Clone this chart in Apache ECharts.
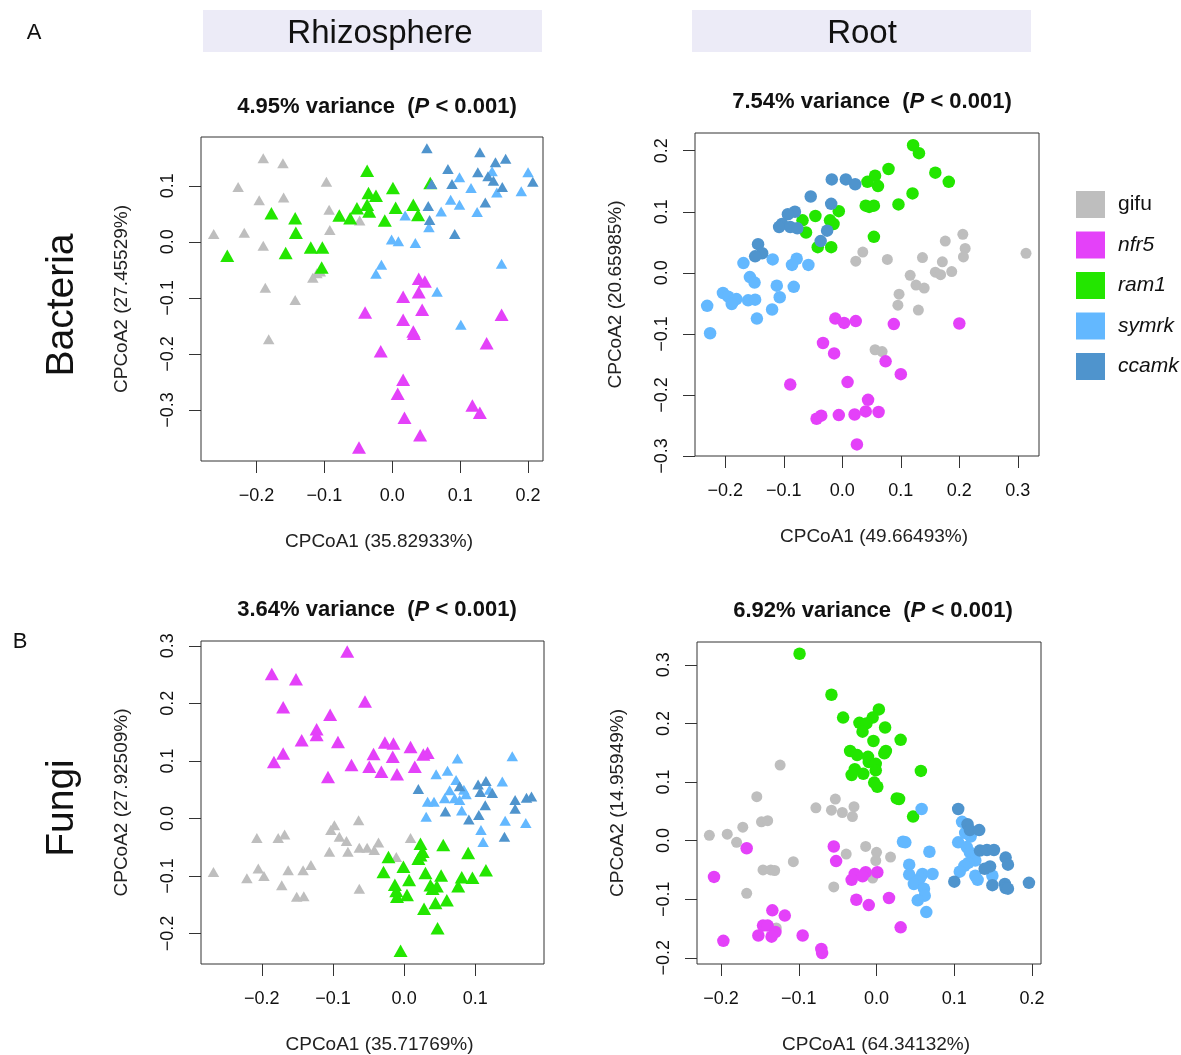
<!DOCTYPE html>
<html>
<head>
<meta charset="utf-8">
<script src="https://cdn.jsdelivr.net/npm/echarts@6/dist/echarts.min.js"></script>
<style>
  html, body { margin: 0; padding: 0; background: #fff; }
  #chart { width: 1181px; height: 1055px; }
</style>
</head>
<body>
<div id="chart"></div>
<script>
const genotypes = ['gifu', 'nfr5', 'ram1', 'symrk', 'ccamk']
const colors = ['#bebebe', '#e441f9', '#23e600', '#63b8ff', '#4f94cd']

// Bacteria, rhizosphere
const bactRhizoGifu = [[-0.190,0.149],[-0.161,0.140],[-0.227,0.098],[-0.196,0.074],[-0.160,0.079],[-0.097,0.107],[-0.093,0.057],[-0.092,0.021],[-0.048,0.038],[-0.263,0.014],[-0.218,0.016],[-0.190,-0.007],[-0.106,-0.053],[-0.111,-0.056],[-0.117,-0.064],[-0.187,-0.082],[-0.143,-0.104],[-0.182,-0.174]]
const bactRhizoNfr5 = [[0.039,-0.066],[0.048,-0.071],[0.039,-0.090],[0.016,-0.098],[-0.040,-0.126],[0.044,-0.121],[0.161,-0.130],[0.016,-0.139],[0.031,-0.160],[0.032,-0.164],[0.139,-0.181],[-0.017,-0.195],[0.016,-0.246],[0.008,-0.271],[0.118,-0.292],[0.129,-0.305],[0.018,-0.314],[0.041,-0.345],[-0.049,-0.367]]
const bactRhizoRam1 = [[-0.037,0.127],[0.056,0.105],[0.001,0.096],[-0.035,0.087],[-0.024,0.082],[-0.037,0.066],[-0.052,0.060],[-0.034,0.054],[0.005,0.061],[0.031,0.066],[0.038,0.048],[-0.078,0.047],[-0.062,0.042],[-0.011,0.038],[-0.178,0.051],[-0.143,0.042],[-0.142,0.016],[-0.120,-0.010],[-0.103,-0.010],[-0.157,-0.020],[-0.243,-0.025],[-0.104,-0.046]]
const bactRhizoSymrk = [[0.099,0.115],[0.116,0.096],[0.086,0.075],[0.099,0.066],[0.072,0.054],[0.125,0.053],[0.019,0.047],[0.054,0.026],[-0.001,0.004],[0.009,0.001],[0.034,-0.002],[0.147,0.126],[0.154,0.088],[0.190,0.090],[0.200,0.124],[-0.016,-0.041],[-0.024,-0.057],[0.066,-0.089],[0.161,-0.039],[0.101,-0.148]]
const bactRhizoCcamk = [[0.051,0.167],[0.129,0.160],[0.152,0.142],[0.167,0.148],[0.082,0.130],[0.126,0.124],[0.141,0.117],[0.088,0.103],[0.058,0.103],[0.149,0.109],[0.162,0.098],[0.207,0.107],[0.137,0.070],[0.053,0.064],[0.055,0.039],[0.092,0.014]]

// Bacteria, root
const bactRootGifu = [[0.314,0.032],[0.206,0.063],[0.176,0.052],[0.210,0.040],[0.207,0.026],[0.137,0.025],[0.171,0.018],[0.077,0.022],[0.035,0.034],[0.023,0.019],[0.159,0.001],[0.168,-0.003],[0.187,0.002],[0.116,-0.004],[0.126,-0.020],[0.140,-0.025],[0.097,-0.035],[0.095,-0.053],[0.130,-0.061],[0.056,-0.126],[0.068,-0.129]]
const bactRootNfr5 = [[-0.012,-0.075],[0.003,-0.082],[0.023,-0.079],[0.088,-0.084],[0.200,-0.083],[-0.033,-0.115],[-0.014,-0.132],[0.074,-0.145],[0.100,-0.166],[-0.089,-0.183],[0.009,-0.179],[0.044,-0.208],[0.040,-0.227],[0.062,-0.228],[0.021,-0.232],[-0.006,-0.233],[-0.036,-0.234],[-0.044,-0.239],[0.025,-0.281]]
const bactRootRam1 = [[0.121,0.209],[0.131,0.196],[0.079,0.170],[0.159,0.164],[0.182,0.149],[0.043,0.149],[0.056,0.159],[0.061,0.142],[0.120,0.130],[0.096,0.112],[0.040,0.110],[0.046,0.108],[0.054,0.110],[-0.006,0.101],[-0.046,0.093],[-0.068,0.086],[-0.021,0.086],[-0.015,0.080],[-0.062,0.066],[0.054,0.059],[-0.042,0.042],[-0.019,0.042]]
const bactRootSymrk = [[-0.169,0.016],[-0.119,0.022],[-0.078,0.023],[-0.086,0.013],[-0.058,0.013],[-0.158,-0.007],[-0.150,-0.016],[-0.112,-0.021],[-0.083,-0.023],[-0.204,-0.033],[-0.195,-0.039],[-0.186,-0.046],[-0.181,-0.043],[-0.189,-0.051],[-0.231,-0.054],[-0.161,-0.045],[-0.149,-0.044],[-0.107,-0.040],[-0.120,-0.060],[-0.146,-0.075],[-0.226,-0.099]]
const bactRootCcamk = [[-0.018,0.153],[0.006,0.153],[0.022,0.145],[-0.054,0.125],[-0.019,0.113],[-0.081,0.100],[-0.093,0.096],[-0.103,0.080],[-0.108,0.075],[-0.089,0.075],[-0.077,0.073],[-0.026,0.069],[-0.037,0.052],[-0.144,0.047],[-0.137,0.032],[-0.149,0.027]]

// Fungi, rhizosphere
const fungiRhizoGifu = [[-0.268,-0.093],[-0.221,-0.104],[-0.205,-0.087],[-0.197,-0.100],[-0.207,-0.034],[-0.177,-0.034],[-0.168,-0.028],[-0.163,-0.090],[-0.172,-0.116],[-0.151,-0.136],[-0.141,-0.135],[-0.142,-0.090],[-0.131,-0.081],[-0.098,-0.012],[-0.103,-0.020],[-0.091,-0.032],[-0.081,-0.039],[-0.105,-0.058],[-0.079,-0.058],[-0.064,-0.003],[-0.063,-0.051],[-0.052,-0.051],[-0.042,-0.055],[-0.036,-0.042],[-0.063,-0.122],[-0.011,-0.067],[0.009,-0.034]]
const fungiRhizoNfr5 = [[-0.080,0.290],[-0.186,0.251],[-0.152,0.242],[-0.055,0.203],[-0.170,0.193],[-0.104,0.180],[-0.123,0.155],[-0.123,0.145],[-0.144,0.136],[-0.093,0.133],[-0.027,0.132],[-0.015,0.130],[0.009,0.124],[-0.043,0.112],[-0.016,0.107],[0.027,0.111],[0.033,0.114],[-0.170,0.113],[-0.183,0.098],[-0.074,0.093],[-0.049,0.090],[0.015,0.090],[-0.032,0.081],[-0.010,0.077],[-0.107,0.072]]
const fungiRhizoRam1 = [[0.023,-0.044],[0.055,-0.046],[-0.022,-0.067],[0.023,-0.064],[0.026,-0.058],[0.020,-0.070],[0.090,-0.060],[-0.001,-0.084],[-0.029,-0.093],[0.030,-0.095],[0.052,-0.099],[0.115,-0.090],[0.081,-0.102],[0.096,-0.103],[0.007,-0.107],[-0.013,-0.115],[0.037,-0.116],[0.046,-0.118],[0.076,-0.118],[-0.011,-0.126],[0.004,-0.133],[-0.010,-0.136],[0.040,-0.122],[0.060,-0.142],[0.044,-0.147],[0.028,-0.157],[0.047,-0.191],[-0.005,-0.230]]
const fungiRhizoSymrk = [[0.075,0.104],[0.152,0.108],[0.045,0.077],[0.061,0.083],[0.073,0.067],[0.138,0.064],[0.064,0.049],[0.084,0.050],[0.087,0.042],[0.120,0.050],[0.033,0.029],[0.042,0.029],[0.057,0.035],[0.071,0.035],[0.078,0.032],[0.081,0.014],[0.031,0.003],[0.142,-0.004],[0.171,-0.008],[0.108,-0.020],[0.111,-0.041]]
const fungiRhizoCcamk = [[0.020,0.051],[0.078,0.056],[0.104,0.059],[0.115,0.065],[0.107,0.046],[0.124,0.044],[0.156,0.032],[0.172,0.036],[0.179,0.038],[0.114,0.023],[0.156,0.017],[0.058,0.012],[0.105,0.006],[0.091,-0.002],[0.141,-0.032]]

// Fungi, root
const fungiRootGifu = [[-0.124,0.129],[-0.154,0.075],[-0.053,0.071],[-0.078,0.056],[-0.029,0.058],[-0.058,0.052],[-0.044,0.048],[-0.031,0.041],[-0.148,0.032],[-0.140,0.034],[-0.172,0.023],[-0.215,0.009],[-0.192,0.011],[-0.180,-0.003],[-0.039,-0.023],[-0.014,-0.010],[0.000,-0.020],[-0.001,-0.034],[0.018,-0.028],[-0.107,-0.036],[-0.146,-0.050],[-0.136,-0.050],[-0.131,-0.051],[-0.005,-0.064],[-0.055,-0.079],[-0.167,-0.090],[-0.129,-0.149]]
const fungiRootNfr5 = [[-0.167,-0.013],[-0.055,-0.010],[-0.052,-0.035],[-0.209,-0.062],[0.001,-0.054],[-0.014,-0.054],[-0.028,-0.057],[-0.018,-0.061],[-0.032,-0.067],[-0.026,-0.101],[-0.010,-0.110],[0.016,-0.098],[-0.134,-0.119],[-0.118,-0.128],[-0.146,-0.145],[-0.140,-0.145],[-0.130,-0.156],[-0.135,-0.164],[-0.152,-0.162],[-0.095,-0.162],[-0.197,-0.171],[-0.071,-0.185],[-0.070,-0.192],[0.031,-0.148]]
const fungiRootRam1 = [[-0.099,0.319],[-0.058,0.249],[0.003,0.224],[-0.043,0.210],[-0.005,0.210],[-0.022,0.201],[-0.013,0.200],[0.011,0.193],[-0.018,0.186],[0.031,0.172],[-0.004,0.170],[-0.034,0.153],[-0.025,0.146],[0.012,0.153],[0.010,0.149],[-0.011,0.143],[-0.010,0.134],[-0.001,0.131],[-0.028,0.122],[-0.001,0.120],[-0.032,0.112],[-0.017,0.114],[0.057,0.119],[-0.003,0.099],[0.001,0.092],[0.026,0.072],[0.029,0.071],[0.047,0.041]]
const fungiRootSymrk = [[0.058,0.054],[0.110,0.032],[0.121,0.007],[0.034,-0.002],[0.037,-0.003],[0.105,-0.003],[0.116,-0.011],[0.120,-0.020],[0.068,-0.019],[0.127,-0.034],[0.118,-0.038],[0.113,-0.043],[0.107,-0.053],[0.042,-0.041],[0.042,-0.058],[0.059,-0.057],[0.072,-0.057],[0.056,-0.064],[0.052,-0.070],[0.048,-0.074],[0.127,-0.060],[0.130,-0.067],[0.149,-0.060],[0.061,-0.082],[0.062,-0.094],[0.053,-0.102],[0.064,-0.122],[0.114,0.013]]
const fungiRootCcamk = [[0.105,0.054],[0.117,0.028],[0.120,0.018],[0.133,-0.017],[0.142,-0.016],[0.151,-0.016],[0.166,-0.029],[0.169,-0.041],[0.146,-0.044],[0.139,-0.048],[0.100,-0.070],[0.149,-0.076],[0.165,-0.074],[0.166,-0.081],[0.169,-0.082],[0.196,-0.072],[0.132,0.018]]

// tick labels per panel
const xTicks = [[-0.2, -0.1, 0, 0.1, 0.2], [-0.2, -0.1, 0, 0.1, 0.2, 0.3], [-0.2, -0.1, 0, 0.1], [-0.2, -0.1, 0, 0.1, 0.2]]
const yTicks = [[-0.3, -0.2, -0.1, 0, 0.1], [-0.3, -0.2, -0.1, 0, 0.1, 0.2], [-0.2, -0.1, 0, 0.1, 0.2, 0.3], [-0.2, -0.1, 0, 0.1, 0.2, 0.3]]
const xNames = ['CPCoA1 (35.82933%)', 'CPCoA1 (49.66493%)', 'CPCoA1 (35.71769%)', 'CPCoA1 (64.34132%)']
const yNames = ['CPCoA2 (27.45529%)', 'CPCoA2 (20.65985%)', 'CPCoA2 (27.92509%)', 'CPCoA2 (14.95949%)']
const variances = ['4.95%', '7.54%', '3.64%', '6.92%']

const panels = [
  { data: [bactRhizoGifu, bactRhizoNfr5, bactRhizoRam1, bactRhizoSymrk, bactRhizoCcamk], shape: 'triangle',
    grid: { left: 201, top: 137, width: 342, height: 324 }, x: [-0.2817, 0.222], y: [-0.391, 0.187], title: [377, 107] },
  { data: [bactRootGifu, bactRootNfr5, bactRootRam1, bactRootSymrk, bactRootCcamk], shape: 'circle',
    grid: { left: 695, top: 133, width: 344, height: 323 }, x: [-0.2518, 0.3362], y: [-0.300, 0.2290], title: [872, 102] },
  { data: [fungiRhizoGifu, fungiRhizoNfr5, fungiRhizoRam1, fungiRhizoSymrk, fungiRhizoCcamk], shape: 'triangle',
    grid: { left: 201, top: 641, width: 343, height: 323 }, x: [-0.2855, 0.1966], y: [-0.2529, 0.3083], title: [377, 610] },
  { data: [fungiRootGifu, fungiRootNfr5, fungiRootRam1, fungiRootSymrk, fungiRootCcamk], shape: 'circle',
    grid: { left: 697, top: 642, width: 344, height: 322 }, x: [-0.2309, 0.2115], y: [-0.2106, 0.339], title: [873, 611] }
]

const font = "'Liberation Sans', Arial, Helvetica, sans-serif"
const tickFmt = v => (Math.abs(v) < 1e-9 ? '0.0' : v.toFixed(1)).replace('-', '\u2212')

const symbolSizeFor = (shape, g) => {
  if (shape === 'circle') return g === 0 ? 11 : 12.5
  return (g === 1 || g === 2) ? [14, 12.5] : [11.5, 10]
}

const grids = [], xAxes = [], yAxes = [], series = [], graphics = []
panels.forEach((p, i) => {
  grids.push(Object.assign({ show: true, borderColor: '#333', borderWidth: 1, backgroundColor: 'transparent' }, p.grid))
  xAxes.push({
    type: 'value', gridIndex: i, min: p.x[0], max: p.x[1],
    name: xNames[i], nameLocation: 'middle', nameGap: 71,
    nameTextStyle: { fontSize: 19, fontFamily: font, color: '#222', padding: [0, 0, 0, 14] },
    axisLine: { show: false, onZero: false },
    axisTick: { show: true, length: 12, customValues: xTicks[i], lineStyle: { color: '#333' } },
    axisLabel: { customValues: xTicks[i], formatter: tickFmt, margin: 26, fontSize: 18, fontFamily: font, color: '#111' },
    splitLine: { show: false }
  })
  yAxes.push({
    type: 'value', gridIndex: i, min: p.y[0], max: p.y[1],
    name: yNames[i], nameLocation: 'middle', nameGap: 70,
    nameTextStyle: { fontSize: 19, fontFamily: font, color: '#222' },
    axisLine: { show: false, onZero: false },
    axisTick: { show: true, length: 12, customValues: yTicks[i], lineStyle: { color: '#333' } },
    axisLabel: { customValues: yTicks[i], formatter: tickFmt, rotate: 90, margin: 24, fontSize: 18, fontFamily: font, color: '#111' },
    splitLine: { show: false }
  })
  p.data.forEach((d, g) => {
    series.push({
      type: 'scatter', name: genotypes[g], xAxisIndex: i, yAxisIndex: i,
      symbol: p.shape, symbolSize: symbolSizeFor(p.shape, g),
      itemStyle: { color: colors[g], opacity: 1 },
      emphasis: { disabled: true },
      data: d
    })
  })
  graphics.push({
    type: 'text', x: p.title[0], y: p.title[1],
    style: {
      text: '{b|' + variances[i] + ' variance  (}{i|P}{b| < 0.001)}',
      align: 'center', verticalAlign: 'middle',
      rich: {
        b: { fontSize: 22, fontWeight: 'bold', fontFamily: font, fill: '#111' },
        i: { fontSize: 22, fontWeight: 'bold', fontStyle: 'italic', fontFamily: font, fill: '#111' }
      }
    }
  })
})

graphics.push(
  { type: 'rect', shape: { x: 203, y: 10, width: 339, height: 42 }, style: { fill: '#ecebf7' } },
  { type: 'rect', shape: { x: 692, y: 10, width: 339, height: 42 }, style: { fill: '#ecebf7' } },
  { type: 'text', x: 380, y: 34, style: { text: 'Rhizosphere', fontSize: 33, fontFamily: font, fill: '#111', align: 'center', verticalAlign: 'middle' } },
  { type: 'text', x: 862, y: 34, style: { text: 'Root', fontSize: 33, fontFamily: font, fill: '#111', align: 'center', verticalAlign: 'middle' } },
  { type: 'text', x: 34, y: 33, style: { text: 'A', fontSize: 22, fontFamily: font, fill: '#111', align: 'center', verticalAlign: 'middle' } },
  { type: 'text', x: 20, y: 642, style: { text: 'B', fontSize: 22, fontFamily: font, fill: '#111', align: 'center', verticalAlign: 'middle' } },
  { type: 'text', x: 62, y: 305, rotation: Math.PI / 2, style: { text: 'Bacteria', fontSize: 39, fontFamily: font, fill: '#111', align: 'center', verticalAlign: 'middle' } },
  { type: 'text', x: 62, y: 808, rotation: Math.PI / 2, style: { text: 'Fungi', fontSize: 39, fontFamily: font, fill: '#111', align: 'center', verticalAlign: 'middle' } }
)

const chart = echarts.init(document.getElementById('chart'), null, { renderer: 'canvas' })
chart.setOption({
  animation: false,
  backgroundColor: '#fff',
  grid: grids,
  xAxis: xAxes,
  yAxis: yAxes,
  legend: {
    orient: 'vertical', left: 1076, top: 191, padding: 0, icon: 'rect',
    itemWidth: 29, itemHeight: 27, itemGap: 13.5, selectedMode: false,
    textStyle: { fontSize: 21, fontFamily: font, color: '#111', padding: [0, 0, 0, 8] },
    data: genotypes.map((g, i) => i === 0 ? { name: g } : { name: g, textStyle: { fontStyle: 'italic' } })
  },
  graphic: graphics,
  series: series
})
</script>
</body>
</html>
